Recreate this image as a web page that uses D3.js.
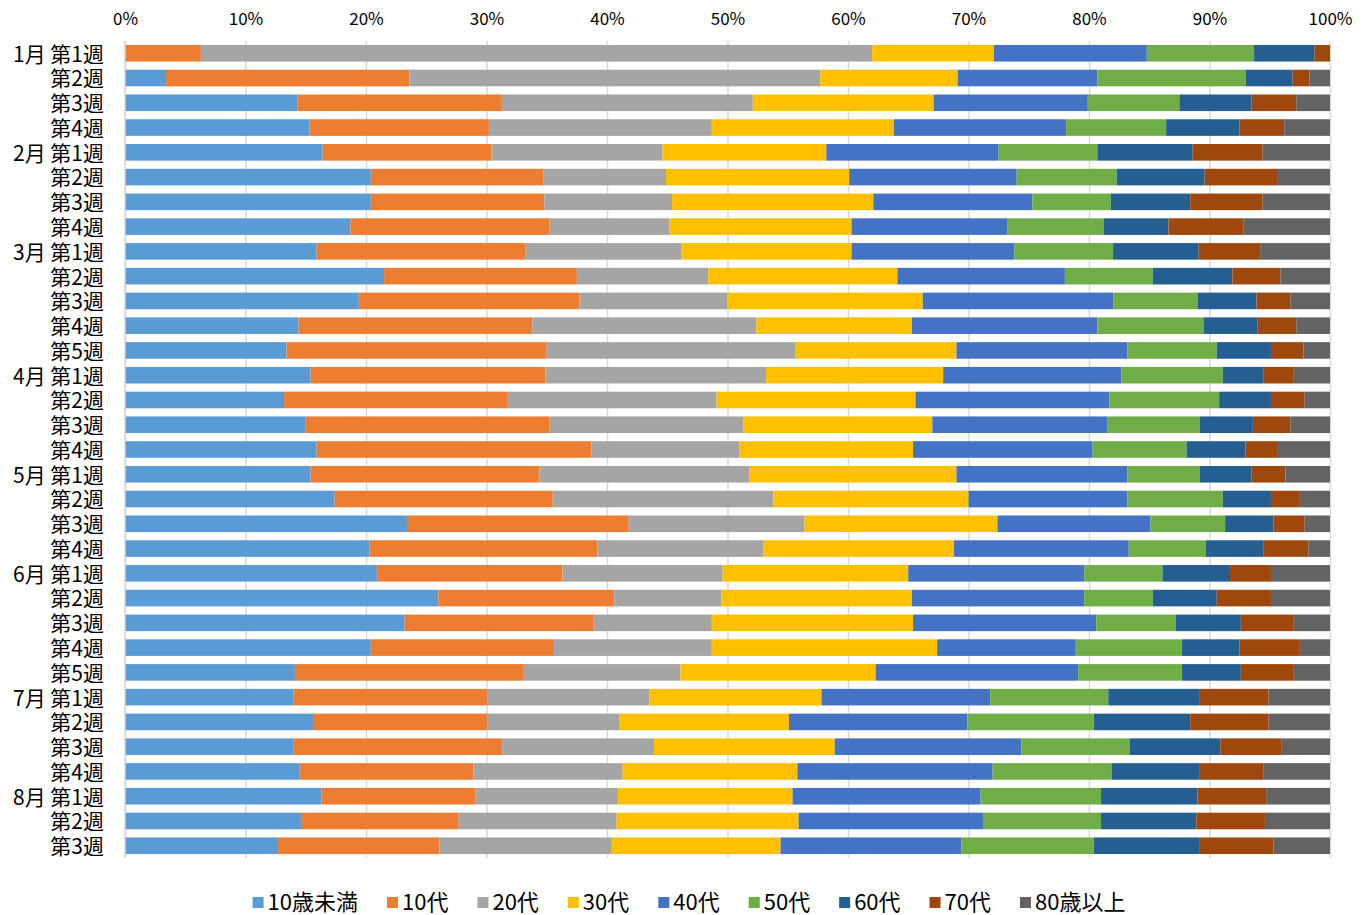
<!DOCTYPE html>
<html>
<head>
<meta charset="utf-8">
<script src="https://cdn.jsdelivr.net/npm/d3@7"></script>
<style>
  body { margin: 0; background: #fff; }
  svg { display: block; font-family: "Noto Sans CJK JP", "Noto Sans", sans-serif; }
</style>
</head>
<body>
<svg id="chart" width="1367" height="915"></svg>
<script>
const weeks = [
  "1月 第1週", "第2週", "第3週", "第4週",
  "2月 第1週", "第2週", "第3週", "第4週",
  "3月 第1週", "第2週", "第3週", "第4週", "第5週",
  "4月 第1週", "第2週", "第3週", "第4週",
  "5月 第1週", "第2週", "第3週", "第4週",
  "6月 第1週", "第2週", "第3週", "第4週", "第5週",
  "7月 第1週", "第2週", "第3週", "第4週",
  "8月 第1週", "第2週", "第3週"
];
const ageGroups = ["10歳未満", "10代", "20代", "30代", "40代", "50代", "60代", "70代", "80歳以上"];
const colors = ["#5B9BD5", "#ED7D31", "#A5A5A5", "#FFC000", "#4472C4", "#70AD47", "#255E91", "#9E480E", "#636363"];
const xTicks = [0, 10, 20, 30, 40, 50, 60, 70, 80, 90, 100];

// share (%) per week, one row per week, columns follow ageGroups
const shares = [
  [0.0, 6.3, 55.7, 10.1, 12.7, 8.9, 5.0, 1.3, 0.0],
  [3.4, 20.2, 34.1, 11.4, 11.6, 12.3, 3.9, 1.4, 1.7],
  [14.3, 16.9, 20.9, 15.0, 12.8, 7.6, 6.0, 3.7, 2.8],
  [15.3, 14.9, 18.5, 15.1, 14.3, 8.3, 6.1, 3.7, 3.8],
  [16.4, 14.0, 14.2, 13.6, 14.3, 8.2, 7.9, 5.8, 5.6],
  [20.4, 14.3, 10.2, 15.2, 13.9, 8.3, 7.3, 6.0, 4.4],
  [20.4, 14.4, 10.6, 16.7, 13.2, 6.5, 6.6, 6.0, 5.6],
  [18.7, 16.5, 10.0, 15.1, 12.9, 8.0, 5.4, 6.2, 7.2],
  [15.9, 17.3, 13.0, 14.1, 13.5, 8.2, 7.1, 5.1, 5.8],
  [21.5, 16.0, 10.9, 15.7, 13.9, 7.3, 6.6, 4.0, 4.1],
  [19.4, 18.3, 12.3, 16.2, 15.8, 7.0, 4.9, 2.8, 3.3],
  [14.4, 19.4, 18.6, 12.9, 15.4, 8.8, 4.5, 3.2, 2.8],
  [13.4, 21.6, 20.6, 13.4, 14.2, 7.4, 4.5, 2.7, 2.2],
  [15.4, 19.5, 18.3, 14.7, 14.8, 8.4, 3.4, 2.5, 3.0],
  [13.2, 18.5, 17.4, 16.5, 16.1, 9.1, 4.3, 2.8, 2.1],
  [15.0, 20.2, 16.1, 15.7, 14.5, 7.7, 4.4, 3.1, 3.3],
  [15.9, 22.8, 12.3, 14.4, 14.9, 7.8, 4.9, 2.6, 4.4],
  [15.4, 19.0, 17.4, 17.2, 14.2, 6.0, 4.3, 2.8, 3.7],
  [17.4, 18.1, 18.3, 16.2, 13.2, 7.9, 4.0, 2.4, 2.5],
  [23.4, 18.4, 14.6, 16.0, 12.7, 6.2, 4.0, 2.6, 2.1],
  [20.3, 18.9, 13.8, 15.8, 14.5, 6.4, 4.8, 3.7, 1.8],
  [20.9, 15.4, 13.3, 15.4, 14.6, 6.5, 5.6, 3.4, 4.9],
  [26.0, 14.6, 8.9, 15.8, 14.3, 5.7, 5.3, 4.5, 4.9],
  [23.2, 15.7, 9.8, 16.7, 15.2, 6.6, 5.4, 4.4, 3.0],
  [20.4, 15.2, 13.1, 18.7, 11.5, 8.8, 4.8, 5.0, 2.5],
  [14.1, 19.0, 13.0, 16.2, 16.8, 8.6, 4.9, 4.4, 3.0],
  [14.0, 16.1, 13.4, 14.3, 14.0, 9.8, 7.6, 5.7, 5.1],
  [15.6, 14.5, 10.9, 14.1, 14.8, 10.5, 8.0, 6.5, 5.1],
  [14.0, 17.3, 12.6, 15.0, 15.5, 9.0, 7.5, 5.1, 4.0],
  [14.5, 14.4, 12.4, 14.5, 16.2, 9.9, 7.3, 5.3, 5.5],
  [16.3, 12.8, 11.8, 14.5, 15.6, 10.0, 8.0, 5.7, 5.3],
  [14.6, 13.1, 13.1, 15.1, 15.3, 9.8, 7.9, 5.7, 5.4],
  [12.7, 13.4, 14.3, 14.0, 15.0, 11.0, 8.8, 6.1, 4.7]
];

const margin = { top: 41, left: 125, right: 37, bottom: 57 };
const W = 1367, H = 915;
const svg = d3.select("#chart");

// rows as objects keyed by group, then normalise to 100%
const rows = shares.map((r, i) => {
  const total = d3.sum(r);
  const o = { key: i, label: weeks[i] };
  ageGroups.forEach((g, j) => { o[g] = r[j] / total * 100; });
  return o;
});

const x = d3.scaleLinear().domain([0, 100]).range([margin.left, W - margin.right]);
const y = d3.scaleBand()
  .domain(rows.map(d => d.key))
  .range([margin.top, H - margin.bottom])
  .paddingInner(0.33)
  .paddingOuter(0.16);

// gridlines
svg.append("g")
  .attr("transform", `translate(0,${margin.top})`)
  .call(d3.axisBottom(x).tickValues(xTicks).tickSize(H - margin.bottom - margin.top).tickFormat(""))
  .call(g => g.select(".domain").remove())
  .call(g => g.selectAll("line").attr("stroke", "#d9d9d9").attr("stroke-width", 1.5));

// top labels
svg.append("g")
  .attr("transform", `translate(0,${margin.top - 13})`)
  .call(d3.axisTop(x).tickValues(xTicks).tickSize(0).tickFormat(d => d + "%"))
  .call(g => g.select(".domain").remove())
  .call(g => g.selectAll("text")
    .attr("font-size", 17)
    .attr("fill", "#000")
    .attr("font-family", "'Liberation Sans Narrow', 'Noto Sans CJK JP', sans-serif"));

const stack = d3.stack().keys(ageGroups);
const series = stack(rows);

svg.append("g")
  .selectAll("g")
  .data(series)
  .join("g")
  .attr("fill", (d, i) => colors[i])
  .selectAll("rect")
  .data(d => d)
  .join("rect")
  .attr("x", d => x(d[0]))
  .attr("width", d => Math.max(0, x(d[1]) - x(d[0])))
  .attr("y", d => y(d.data.key))
  .attr("height", y.bandwidth());

// left axis line
svg.append("line")
  .attr("x1", margin.left).attr("x2", margin.left)
  .attr("y1", margin.top).attr("y2", H - margin.bottom)
  .attr("stroke", "#d9d9d9").attr("stroke-width", 1.5);

// y labels
svg.append("g")
  .selectAll("text")
  .data(rows)
  .join("text")
  .attr("x", 104)
  .attr("y", d => y(d.key) + y.bandwidth() / 2)
  .attr("dy", "0.4em")
  .attr("text-anchor", "end")
  .attr("font-size", 21)
  .attr("fill", "#000")
  .style("white-space", "pre")
  .text(d => d.label);

// legend
const legendY = 901;
const legend = svg.append("g").attr("transform", `translate(0,${legendY})`);
let lx = 0;
const gap = 29;
const items = legend.selectAll("g")
  .data(ageGroups)
  .join("g");
items.append("rect")
  .attr("width", 11).attr("height", 11)
  .attr("y", -4)
  .attr("fill", (d, i) => colors[i]);
items.append("text")
  .attr("x", 15)
  .attr("dy", "0.42em")
  .attr("font-size", 22)
  .attr("fill", "#000")
  .text(d => d);
items.each(function () {
  d3.select(this).attr("transform", `translate(${lx},0)`);
  lx += 15 + d3.select(this).select("text").node().getComputedTextLength() + gap;
});
const legendW = lx - gap;
legend.attr("transform", `translate(${689 - legendW / 2},${legendY})`);
</script>
</body>
</html>
